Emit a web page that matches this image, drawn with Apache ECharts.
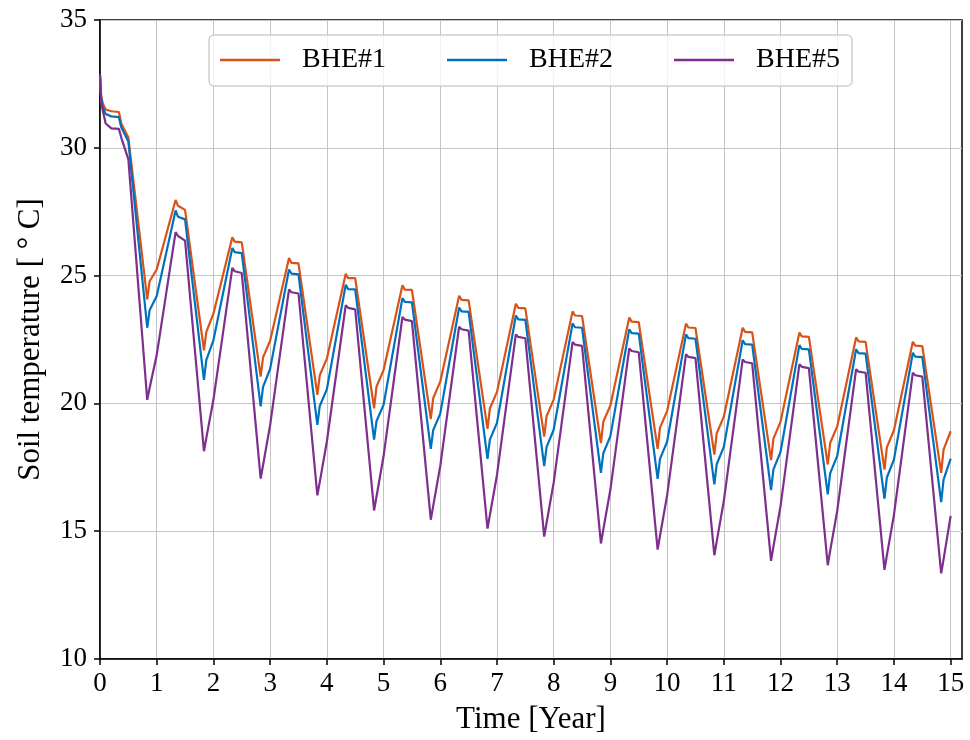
<!DOCTYPE html>
<html>
<head>
<meta charset="utf-8">
<script src="https://cdn.jsdelivr.net/npm/echarts@6/dist/echarts.min.js"></script>
<style>html,body{margin:0;padding:0;background:#fff}#c{width:970px;height:740px}</style>
</head>
<body>
<div id="c"></div>
<script>
// Time (years)
var time = [
  0, 0.02, 0.05, 0.1, 0.2, 0.333, 0.375, 0.5, 0.833, 0.875, 1.0,
  1.333, 1.375, 1.5, 1.833, 1.875, 2.0,
  2.333, 2.375, 2.5, 2.833, 2.875, 3.0,
  3.333, 3.375, 3.5, 3.833, 3.875, 4.0,
  4.333, 4.375, 4.5, 4.833, 4.875, 5.0,
  5.333, 5.375, 5.5, 5.833, 5.875, 6.0,
  6.333, 6.375, 6.5, 6.833, 6.875, 7.0,
  7.333, 7.375, 7.5, 7.833, 7.875, 8.0,
  8.333, 8.375, 8.5, 8.833, 8.875, 9.0,
  9.333, 9.375, 9.5, 9.833, 9.875, 10.0,
  10.333, 10.375, 10.5, 10.833, 10.875, 11.0,
  11.333, 11.375, 11.5, 11.833, 11.875, 12.0,
  12.333, 12.375, 12.5, 12.833, 12.875, 13.0,
  13.333, 13.375, 13.5, 13.833, 13.875, 14.0,
  14.333, 14.375, 14.5, 14.833, 14.875, 15.0
];
var bhe1 = [
  32.86, 32.05, 31.72, 31.5, 31.43, 31.4, 30.95, 30.4, 24.07, 24.78, 25.24,
  27.96, 27.73, 27.57, 22.08, 22.8, 23.51,
  26.5, 26.33, 26.3, 21.05, 21.8, 22.45,
  25.69, 25.5, 25.48, 20.33, 21.1, 21.75,
  25.07, 24.9, 24.9, 19.81, 20.65, 21.3,
  24.62, 24.45, 24.44, 19.39, 20.2, 20.85,
  24.21, 24.05, 24.03, 19.0, 19.8, 20.45,
  23.9, 23.74, 23.72, 18.7, 19.5, 20.15,
  23.6, 23.44, 23.42, 18.45, 19.28, 19.92,
  23.36, 23.2, 23.18, 18.22, 19.05, 19.7,
  23.12, 22.97, 22.95, 18.0, 18.83, 19.48,
  22.96, 22.8, 22.78, 17.78, 18.62, 19.28,
  22.77, 22.62, 22.6, 17.61, 18.45, 19.1,
  22.58, 22.43, 22.41, 17.41, 18.28, 18.95,
  22.41, 22.26, 22.24, 17.28, 18.19, 18.91
];
var bhe2 = [
  32.86, 31.95, 31.6, 31.32, 31.23, 31.2, 30.8, 30.25, 22.96, 23.64, 24.2,
  27.55, 27.3, 27.2, 20.92, 21.7, 22.47,
  26.08, 25.92, 25.88, 19.88, 20.65, 21.35,
  25.24, 25.08, 25.05, 19.16, 19.9, 20.55,
  24.64, 24.47, 24.46, 18.58, 19.3, 19.94,
  24.12, 23.97, 23.95, 18.22, 18.95, 19.6,
  23.75, 23.6, 23.58, 17.83, 18.58, 19.24,
  23.44, 23.29, 23.27, 17.55, 18.3, 18.97,
  23.13, 22.98, 22.96, 17.28, 18.05, 18.72,
  22.9, 22.75, 22.73, 17.05, 17.83, 18.5,
  22.7, 22.55, 22.53, 16.83, 17.62, 18.3,
  22.47, 22.32, 22.3, 16.61, 17.42, 18.1,
  22.28, 22.13, 22.11, 16.44, 17.26, 17.95,
  22.12, 21.97, 21.95, 16.27, 17.1, 17.8,
  21.98, 21.83, 21.81, 16.14, 17.02, 17.84
];
var bhe5 = [
  32.86, 31.8, 31.45, 30.95, 30.76, 30.74, 30.4, 29.55, 20.14, 20.6, 21.89,
  26.7, 26.55, 26.37, 18.13, 18.65, 20.14,
  25.3, 25.17, 25.1, 17.06, 17.58, 19.15,
  24.46, 24.35, 24.3, 16.4, 16.92, 18.5,
  23.84, 23.74, 23.68, 15.81, 16.35, 17.93,
  23.38, 23.28, 23.22, 15.45, 15.98, 17.55,
  23.0, 22.9, 22.85, 15.1, 15.63, 17.2,
  22.7, 22.6, 22.55, 14.79, 15.33, 16.9,
  22.4, 22.3, 22.25, 14.52, 15.06, 16.63,
  22.15, 22.05, 22.0, 14.28, 14.82, 16.4,
  21.92, 21.82, 21.77, 14.06, 14.6, 16.18,
  21.72, 21.62, 21.57, 13.84, 14.4, 15.98,
  21.53, 21.43, 21.38, 13.67, 14.23, 15.8,
  21.34, 21.24, 21.2, 13.49, 14.05, 15.64,
  21.2, 21.1, 21.05, 13.35, 13.9, 15.6
];
var seriesNames = ['BHE#1', 'BHE#2', 'BHE#5'];
var seriesColors = ['#D95319', '#0072BD', '#7E2F8E'];
var xTicks = [0,1,2,3,4,5,6,7,8,9,10,11,12,13,14,15];

function pairs(v){ return time.map(function(t,i){ return [t, v[i]]; }); }
var allData = [bhe1, bhe2, bhe5];

var font = 'Liberation Serif';
var chart = echarts.init(document.getElementById('c'), null, {renderer:'canvas'});
chart.setOption({
  animation: false,
  backgroundColor: '#fff',
  grid: {left: 100, top: 20, right: 8, bottom: 78, show: true, borderColor: '#000', borderWidth: 1.5, containLabel: false},
  legend: {
    left: 209, top: 35,
    padding: [11, 12, 12, 11],
    icon: 'rect',
    itemWidth: 60, itemHeight: 2.5, itemGap: 61,
    borderColor: '#d0d0d0', borderWidth: 1.5, borderRadius: 5,
    backgroundColor: 'rgba(255,255,255,0.8)',
    textStyle: {fontFamily: font, fontSize: 28, color: '#000', padding: [0,0,0,17]},
    data: seriesNames
  },
  xAxis: {
    type: 'value', min: 0, max: 15.2, interval: 1,
    name: 'Time [Year]', nameLocation: 'middle', nameGap: 45,
    nameTextStyle: {fontFamily: font, fontSize: 31, color: '#000'},
    axisLine: {show: true, lineStyle: {color: '#000', width: 1.5}},
    axisTick: {show: true, length: 6, lineStyle: {color: '#000', width: 1.5}, customValues: xTicks},
    axisLabel: {fontFamily: font, fontSize: 27, color: '#000', margin: 11, customValues: xTicks},
    splitLine: {show: true, lineStyle: {color: '#c4c4c4', width: 1}}
  },
  yAxis: {
    type: 'value', min: 10, max: 35, interval: 5,
    name: 'Soil temperature [ \u00B0 C]', nameLocation: 'middle', nameGap: 54,
    nameTextStyle: {fontFamily: font, fontSize: 31, color: '#000'},
    axisLine: {show: true, lineStyle: {color: '#000', width: 1.5}},
    axisTick: {show: true, length: 6, lineStyle: {color: '#000', width: 1.5}},
    axisLabel: {fontFamily: font, fontSize: 27, color: '#000', margin: 13},
    splitLine: {show: true, lineStyle: {color: '#c4c4c4', width: 1}}
  },
  series: seriesNames.map(function(n, k){
    return {
      name: n, type: 'line', data: pairs(allData[k]),
      symbol: 'none', smooth: false,
      lineStyle: {color: seriesColors[k], width: 2.2},
      itemStyle: {color: seriesColors[k]}
    };
  })
});
</script>
</body>
</html>
